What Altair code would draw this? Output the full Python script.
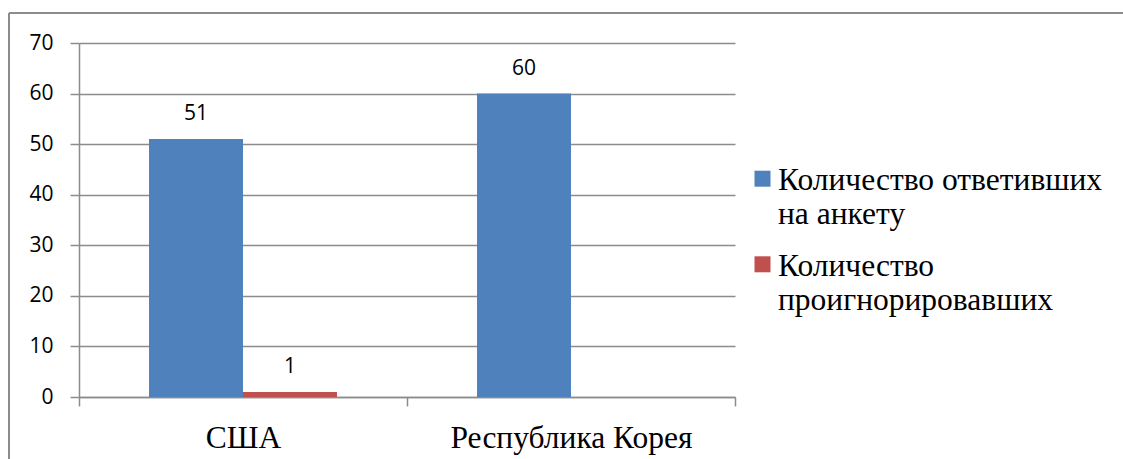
import altair as alt
import pandas as pd

countries = ["США", "Республика Корея"]
series = ["Количество ответивших на анкету", "Количество проигнорировавших"]
legend_lines = ["Количество ответивших\nна анкету", "Количество\nпроигнорировавших"]
answered = [51, 60]
ignored = [1, 0]
colors = ["#4F81BD", "#C0504D"]
y_ticks = [0, 10, 20, 30, 40, 50, 60, 70]

rows = []
for i, c in enumerate(countries):
    rows.append({"country": c, "series": series[0], "value": answered[i]})
    rows.append({"country": c, "series": series[1], "value": ignored[i]})
df = pd.DataFrame(rows)
leg = pd.DataFrame({"series": series, "label": legend_lines})
one = pd.DataFrame({"a": [0]})

W, H = 656, 354
GRAY = "#8c8c8c"
SERIF = "Liberation Serif"
FS = 31.5

x = alt.X("country:N", sort=countries,
          scale=alt.Scale(paddingInner=0, paddingOuter=0),
          axis=alt.Axis(title=None, labelAngle=0, tickBand="extent", tickSize=9,
                        domainColor=GRAY, tickColor=GRAY, domainWidth=1.5, tickWidth=1.5,
                        labelFont=SERIF, labelFontSize=FS, labelColor="#000",
                        labelPadding=16, labelLimit=600, grid=False))
xo = alt.XOffset("series:N", sort=series,
                 scale=alt.Scale(paddingOuter=0.745, paddingInner=0))
y = alt.Y("value:Q", scale=alt.Scale(domain=[0, 70], nice=False),
          axis=alt.Axis(values=y_ticks, title=None, tickSize=9, tickColor=GRAY,
                        tickWidth=1.5, domainColor=GRAY, domainWidth=1.5,
                        grid=True, gridColor=GRAY, gridWidth=1.5,
                        labelFont="Open Sans", labelFontSize=21, labelColor="#000",
                        labelPadding=17))
color = alt.Color("series:N", scale=alt.Scale(domain=series, range=colors), legend=None)

bars = alt.Chart(df).mark_bar().encode(x=x, xOffset=xo, y=y, color=color)
labels = alt.Chart(df).mark_text(baseline="alphabetic", dy=-19, font="Open Sans",
                                 fontSize=21, color="#000").encode(
    x=x, xOffset=xo, y=y, text="value:Q"
).transform_filter("datum.value > 0")

ly = alt.Y("series:N", sort=series,
           scale=alt.Scale(type="point", domain=series, range=[135.7, 221.3], padding=0),
           axis=None)
leg_sym = alt.Chart(leg).mark_square(size=256, opacity=1).encode(
    x=alt.value(683.5), y=ly, color=alt.Color("series:N", scale=alt.Scale(domain=series, range=colors), legend=None))
leg_txt = alt.Chart(leg).mark_text(align="left", baseline="alphabetic", dy=11.3,
                                   font=SERIF, fontSize=FS, color="#000",
                                   lineBreak="\n", lineHeight=34).encode(
    x=alt.value(699), y=ly, text="label:N")

frame_top = alt.Chart(one).mark_rule(color=GRAY, strokeWidth=2).encode(
    x=alt.value(-70), x2=alt.value(1200), y=alt.value(-30))
frame_left = alt.Chart(one).mark_rule(color=GRAY, strokeWidth=2).encode(
    x=alt.value(-70), y=alt.value(-30), y2=alt.value(600))

main = alt.layer(bars, labels)
legend = alt.layer(leg_sym, leg_txt)

chart = alt.layer(frame_top, frame_left, main, legend).resolve_scale(y="independent").properties(
    width=W, height=H,
    autosize=alt.AutoSizeParams(type="none"),
    padding={"left": 79, "top": 43, "right": 1123 - 79 - W, "bottom": 459 - 43 - H},
).configure_view(stroke=None)

chart.save("out.html", embed_options={"renderer": "svg", "actions": False})
